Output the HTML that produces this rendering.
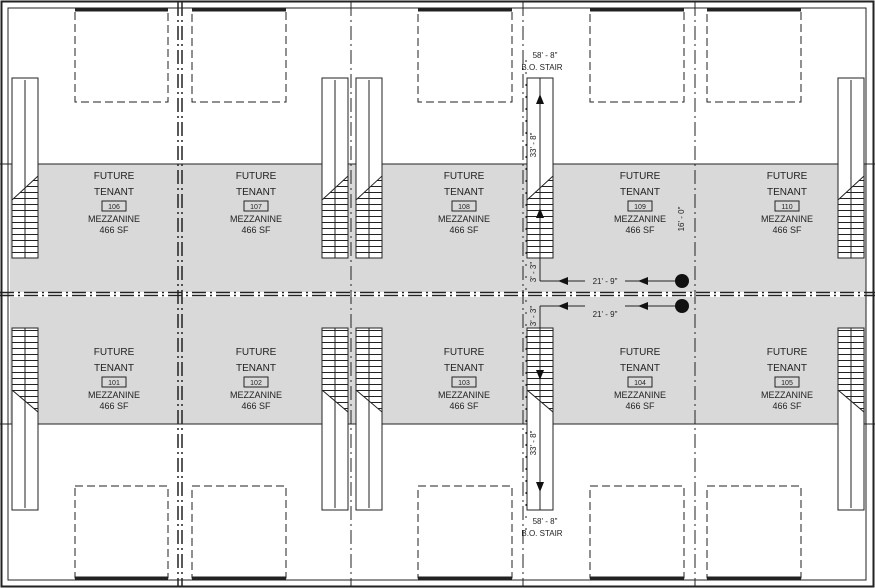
<!DOCTYPE html>
<html><head><style>body{margin:0;background:#fff}svg{display:block}text{font-family:"Liberation Sans",sans-serif;fill:#222}</style></head><body>
<svg width="875" height="588" viewBox="0 0 875 588" xmlns="http://www.w3.org/2000/svg">
<defs>
<pattern id="tr" width="10" height="6" patternUnits="userSpaceOnUse"><rect width="10" height="6" fill="#fff"/><line x1="0" y1="0.5" x2="10" y2="0.5" stroke="#222" stroke-width="1"/></pattern>
</defs>
<rect x="10" y="164" width="856" height="128" fill="#d9d9d9"/>
<rect x="10" y="297" width="856" height="127" fill="#d9d9d9"/>
<g fill="none" stroke="#222">
<rect x="1.5" y="1.5" width="872" height="585" stroke-width="2"/>
<rect x="8" y="8" width="858" height="572" stroke-width="1"/>
<line x1="0" y1="164" x2="875" y2="164"/><line x1="0" y1="424" x2="875" y2="424"/>
<g stroke-width="3"><line x1="75" y1="10" x2="168" y2="10"/><line x1="192" y1="10" x2="286" y2="10"/><line x1="418" y1="10" x2="512" y2="10"/><line x1="590" y1="10" x2="684" y2="10"/><line x1="707" y1="10" x2="801" y2="10"/>
<line x1="75" y1="578" x2="168" y2="578"/><line x1="192" y1="578" x2="286" y2="578"/><line x1="418" y1="578" x2="512" y2="578"/><line x1="590" y1="578" x2="684" y2="578"/><line x1="707" y1="578" x2="801" y2="578"/></g>
<g stroke-dasharray="8,4"><rect x="75" y="10" width="93" height="92"/><rect x="192" y="10" width="94" height="92"/><rect x="418" y="10" width="94" height="92"/><rect x="590" y="10" width="94" height="92"/><rect x="707" y="10" width="94" height="92"/>
<rect x="75" y="486" width="93" height="92"/><rect x="192" y="486" width="94" height="92"/><rect x="418" y="486" width="94" height="92"/><rect x="590" y="486" width="94" height="92"/><rect x="707" y="486" width="94" height="92"/></g>
<g stroke-dasharray="14,4,2,4"><line x1="178" y1="2" x2="178" y2="586" stroke-width="1.5"/><line x1="182" y1="2" x2="182" y2="586" stroke-width="1.5"/><line x1="351" y1="2" x2="351" y2="586"/><line x1="523" y1="2" x2="523" y2="586"/><line x1="695" y1="2" x2="695" y2="586"/>
<line x1="0" y1="292.5" x2="875" y2="292.5" stroke-width="1.5"/><line x1="0" y1="295.5" x2="875" y2="295.5" stroke-width="1.5"/></g>
</g>
<g stroke="#222" fill="none">
<rect x="12" y="78" width="26" height="180" fill="#fff"/><polygon points="12,200 38,176 38,258 12,258" fill="url(#tr)"/><line x1="25" y1="80" x2="25" y2="258"/>
<rect x="322" y="78" width="26" height="180" fill="#fff"/><polygon points="322,200 348,176 348,258 322,258" fill="url(#tr)"/><line x1="335" y1="80" x2="335" y2="258"/>
<rect x="356" y="78" width="26" height="180" fill="#fff"/><polygon points="356,200 382,176 382,258 356,258" fill="url(#tr)"/><line x1="369" y1="80" x2="369" y2="258"/>
<rect x="527" y="78" width="26" height="180" fill="#fff"/><polygon points="527,200 553,176 553,258 527,258" fill="url(#tr)"/><line x1="540" y1="78" x2="540" y2="258"/>
<rect x="838" y="78" width="26" height="180" fill="#fff"/><polygon points="838,200 864,176 864,258 838,258" fill="url(#tr)"/><line x1="851" y1="80" x2="851" y2="258"/>
<rect x="12" y="328" width="26" height="182" fill="#fff"/><polygon points="12,328 38,328 38,412 12,390" fill="url(#tr)"/><line x1="25" y1="328" x2="25" y2="508"/>
<rect x="322" y="328" width="26" height="182" fill="#fff"/><polygon points="322,328 348,328 348,412 322,390" fill="url(#tr)"/><line x1="335" y1="328" x2="335" y2="508"/>
<rect x="356" y="328" width="26" height="182" fill="#fff"/><polygon points="356,328 382,328 382,412 356,390" fill="url(#tr)"/><line x1="369" y1="328" x2="369" y2="508"/>
<rect x="527" y="328" width="26" height="182" fill="#fff"/><polygon points="527,328 553,328 553,412 527,390" fill="url(#tr)"/><line x1="540" y1="328" x2="540" y2="510"/>
<rect x="838" y="328" width="26" height="182" fill="#fff"/><polygon points="838,328 864,328 864,412 838,390" fill="url(#tr)"/><line x1="851" y1="328" x2="851" y2="508"/>
<line x1="540" y1="258" x2="540" y2="281"/><line x1="540" y1="281" x2="682" y2="281"/>
<line x1="540" y1="328" x2="540" y2="306"/><line x1="540" y1="306" x2="682" y2="306"/>
<line x1="526" y1="60" x2="526" y2="310" stroke-dasharray="2,10"/><line x1="526" y1="300" x2="526" y2="530" stroke-dasharray="2,10"/>
</g>
<g fill="#111">
<polygon points="540,94 536,104 544,104"/><polygon points="540,208 536,218 544,218"/>
<polygon points="540,380 536,370 544,370"/><polygon points="540,492 536,482 544,482"/>
<polygon points="558,281 568,277 568,285"/><polygon points="638,281 648,277 648,285"/>
<polygon points="558,306 568,302 568,310"/><polygon points="638,306 648,302 648,310"/>
<circle cx="682" cy="281" r="7"/><circle cx="682" cy="306" r="7"/>
</g>
<g font-size="8" text-anchor="middle">
<rect x="585" y="275" width="40" height="10" fill="#d9d9d9"/><text x="605" y="284">21' - 9"</text>
<rect x="585" y="302" width="40" height="10" fill="#d9d9d9"/><text x="605" y="317">21' - 9"</text>
<text x="545" y="58">58' - 8"</text><text x="542" y="70">B.O. STAIR</text>
<text x="545" y="524">58' - 8"</text><text x="542" y="532" dy="4">B.O. STAIR</text>
<text transform="translate(536,145) rotate(-90)">33' - 8"</text>
<text transform="translate(536,443) rotate(-90)">33' - 8"</text>
<text transform="translate(536,272) rotate(-90)">3' - 3"</text>
<text transform="translate(536,316) rotate(-90)">3' - 3"</text>
<text transform="translate(684,219) rotate(-90)">16' - 0"</text>
</g>
<g font-size="10" text-anchor="middle">
<g transform="translate(114,0)"><text y="179">FUTURE</text><text y="195">TENANT</text><rect x="-12" y="201" width="24" height="10" fill="none" stroke="#222"/><text y="209" font-size="7">106</text><text y="222" font-size="9">MEZZANINE</text><text y="233" font-size="9">466 SF</text></g>
<g transform="translate(256,0)"><text y="179">FUTURE</text><text y="195">TENANT</text><rect x="-12" y="201" width="24" height="10" fill="none" stroke="#222"/><text y="209" font-size="7">107</text><text y="222" font-size="9">MEZZANINE</text><text y="233" font-size="9">466 SF</text></g>
<g transform="translate(464,0)"><text y="179">FUTURE</text><text y="195">TENANT</text><rect x="-12" y="201" width="24" height="10" fill="none" stroke="#222"/><text y="209" font-size="7">108</text><text y="222" font-size="9">MEZZANINE</text><text y="233" font-size="9">466 SF</text></g>
<g transform="translate(640,0)"><text y="179">FUTURE</text><text y="195">TENANT</text><rect x="-12" y="201" width="24" height="10" fill="none" stroke="#222"/><text y="209" font-size="7">109</text><text y="222" font-size="9">MEZZANINE</text><text y="233" font-size="9">466 SF</text></g>
<g transform="translate(787,0)"><text y="179">FUTURE</text><text y="195">TENANT</text><rect x="-12" y="201" width="24" height="10" fill="none" stroke="#222"/><text y="209" font-size="7">110</text><text y="222" font-size="9">MEZZANINE</text><text y="233" font-size="9">466 SF</text></g>
<g transform="translate(114,176)"><text y="179">FUTURE</text><text y="195">TENANT</text><rect x="-12" y="201" width="24" height="10" fill="none" stroke="#222"/><text y="209" font-size="7">101</text><text y="222" font-size="9">MEZZANINE</text><text y="233" font-size="9">466 SF</text></g>
<g transform="translate(256,176)"><text y="179">FUTURE</text><text y="195">TENANT</text><rect x="-12" y="201" width="24" height="10" fill="none" stroke="#222"/><text y="209" font-size="7">102</text><text y="222" font-size="9">MEZZANINE</text><text y="233" font-size="9">466 SF</text></g>
<g transform="translate(464,176)"><text y="179">FUTURE</text><text y="195">TENANT</text><rect x="-12" y="201" width="24" height="10" fill="none" stroke="#222"/><text y="209" font-size="7">103</text><text y="222" font-size="9">MEZZANINE</text><text y="233" font-size="9">466 SF</text></g>
<g transform="translate(640,176)"><text y="179">FUTURE</text><text y="195">TENANT</text><rect x="-12" y="201" width="24" height="10" fill="none" stroke="#222"/><text y="209" font-size="7">104</text><text y="222" font-size="9">MEZZANINE</text><text y="233" font-size="9">466 SF</text></g>
<g transform="translate(787,176)"><text y="179">FUTURE</text><text y="195">TENANT</text><rect x="-12" y="201" width="24" height="10" fill="none" stroke="#222"/><text y="209" font-size="7">105</text><text y="222" font-size="9">MEZZANINE</text><text y="233" font-size="9">466 SF</text></g>
</g>
</svg>
</body></html>
